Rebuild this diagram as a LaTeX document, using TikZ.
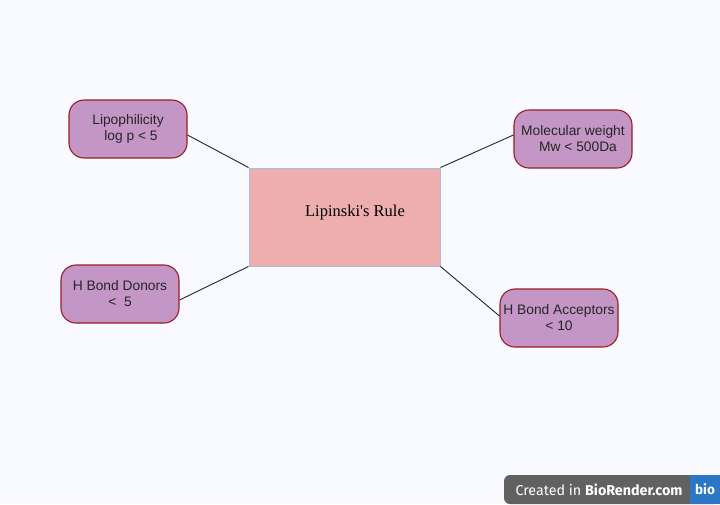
\documentclass[tikz,border=0pt]{standalone}
\usepackage{fontspec}
\setmainfont{Liberation Serif}
\setsansfont{Liberation Sans}
\newfontfamily\badgefont{Fira Sans}
\usetikzlibrary{calc,positioning}

\definecolor{bgcol}{HTML}{F8FAFF}
\definecolor{rulefill}{HTML}{EEAEAE}
\definecolor{ruleline}{HTML}{A9BEDC}
\definecolor{propfill}{HTML}{C396C5}
\definecolor{propline}{HTML}{9A1E22}
\definecolor{badgegrey}{HTML}{616161}
\definecolor{badgeblue}{HTML}{2B77C6}

\tikzset{
  propbox/.style={draw=propline, fill=propfill, line width=1.1pt, rounded corners=15pt,
    minimum width=118pt, minimum height=58pt, align=center,
    font=\sffamily\fontsize{13.8}{16}\selectfont, text=black!85},
  link/.style={draw=black!85, line width=0.9pt}
}

\begin{document}
\begin{tikzpicture}[x=1pt, y=-1pt]

  % Background
  \fill[bgcol] (0,0) rectangle (720,504);
  \useasboundingbox (0,0) rectangle (720,504);

  % Central box
  \node[draw=ruleline, fill=rulefill, line width=0.9pt, minimum width=191pt, minimum height=98pt,
        font=\fontsize{16.5}{18}\selectfont] (rule) at (344.5,217)
        {\hspace*{21pt}\raisebox{13pt}{Lipinski\textquotesingle s Rule}};

  % Properties
  \node[propbox] (lipo)  at (128,129) {Lipophilicity\\ \hspace*{6pt}log p < 5};
  \node[propbox] (mw)    at (573,139) {Molecular weight\\ \hspace*{10pt}Mw < 500Da};
  \node[propbox] (donor) at (120,294) {H Bond Donors\\ <\ \ 5};
  \node[propbox] (accep) at (559,318) {H Bond Acceptors\\ < 10};

  % Connectors
  \draw[link] ($(lipo.east)+(0,6)$) -- (rule.north west);
  \draw[link] (rule.north east) -- ($(mw.west)+(0,-4)$);
  \draw[link] ($(donor.east)+(0,6)$) -- (rule.south west);
  \draw[link] (rule.south east) -- ($(accep.west)+(0,-2)$);

  % Badge
  \fill[badgegrey, rounded corners=6pt] (504,504) -- (504,475) -- (720,475) -- (720,504) -- cycle;
  \fill[badgeblue] (690,475) rectangle (720,504);
  \node[text=white, font=\badgefont\fontsize{14.3}{15}\selectfont, anchor=center] (credit) at (599,490)
    {Created in \textbf{BioRender.com}};
  \node[text=white, font=\badgefont\bfseries\fontsize{13.5}{14}\selectfont] (bio) at (705,489) {bio};

\end{tikzpicture}
\end{document}
